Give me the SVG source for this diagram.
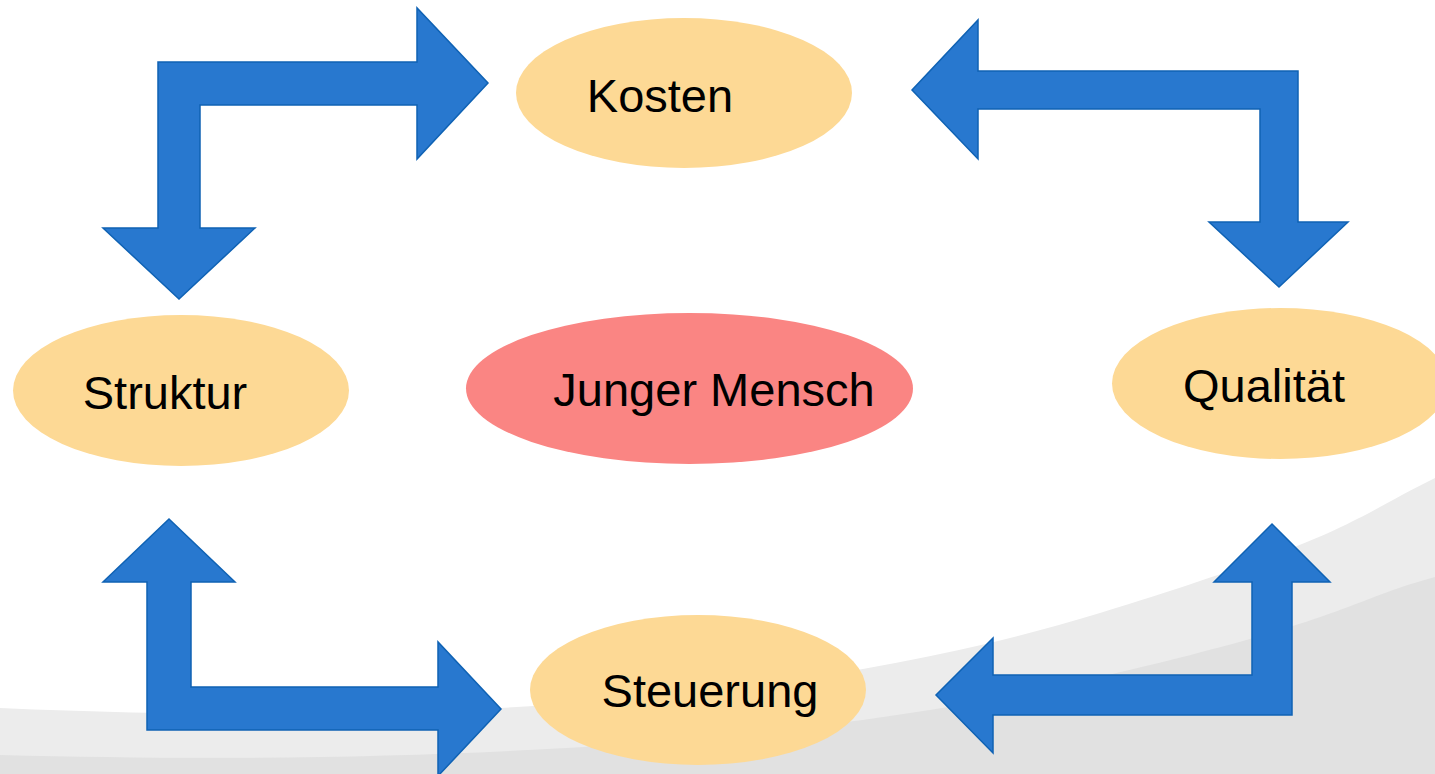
<svg xmlns="http://www.w3.org/2000/svg" width="1435" height="774" viewBox="0 0 1435 774">
  <style>
    .node-y { fill: #FDD995; }
    .node-r { fill: #FA8583; }
    .lbl { font-family: "Liberation Sans", Arial, sans-serif; font-size: 47px; fill: #000; text-anchor: middle; }
    .arrow { fill: #2878CF; stroke: #0F62B4; stroke-width: 1.5; stroke-linejoin: miter; }
  </style>
  <rect x="0" y="0" width="1435" height="774" fill="#FFFFFF"/>
  <g id="background">
    <path d="M0,708 C 500,730 850,690 1100,613 S 1350,520 1435,478 L1435,774 L0,774 Z" fill="#ECECEC"/>
    <path d="M0,755 C 500,768 850,735 1100,677 S 1350,600 1435,577 L1435,774 L0,774 Z" fill="#E1E1E1"/>
  </g>
  <g id="connectors">
    <path class="arrow" d="M158,62 L417,62 L417,8 L488,83 L417,159 L417,105 L200,105 L200,228 L255,228 L179,299 L103,228 L158,228 Z"/>
    <path class="arrow" d="M912,90 L978,20 L978,71 L1298,71 L1298,222 L1348,222 L1279,287 L1209,222 L1260,222 L1260,109 L978,109 L978,159 Z"/>
    <path class="arrow" d="M169,519 L235,582 L191,582 L191,687 L438,687 L438,642 L501,709 L438,776 L438,730 L147,730 L147,582 L103,582 Z"/>
    <path class="arrow" d="M1272,524 L1330,582 L1292,582 L1292,715 L993,715 L993,753 L936,695 L993,638 L993,675 L1252,675 L1252,582 L1214,582 Z"/>
  </g>
  <g id="kosten">
    <ellipse class="node-y" cx="684" cy="93" rx="168" ry="75"/>
    <text class="lbl" x="660" y="112">Kosten</text>
  </g>
  <g id="struktur">
    <ellipse class="node-y" cx="181" cy="390.5" rx="168" ry="75.5"/>
    <text class="lbl" x="165" y="409">Struktur</text>
  </g>
  <g id="junger-mensch">
    <ellipse class="node-r" cx="689.5" cy="388.5" rx="223.5" ry="75.5"/>
    <text class="lbl" x="714" y="406">Junger Mensch</text>
  </g>
  <g id="qualitaet">
    <ellipse class="node-y" cx="1280" cy="383.5" rx="168" ry="75.5"/>
    <text class="lbl" x="1264" y="402">Qualität</text>
  </g>
  <g id="steuerung">
    <ellipse class="node-y" cx="698" cy="690" rx="168" ry="75"/>
    <text class="lbl" x="710" y="707">Steuerung</text>
  </g>
</svg>
